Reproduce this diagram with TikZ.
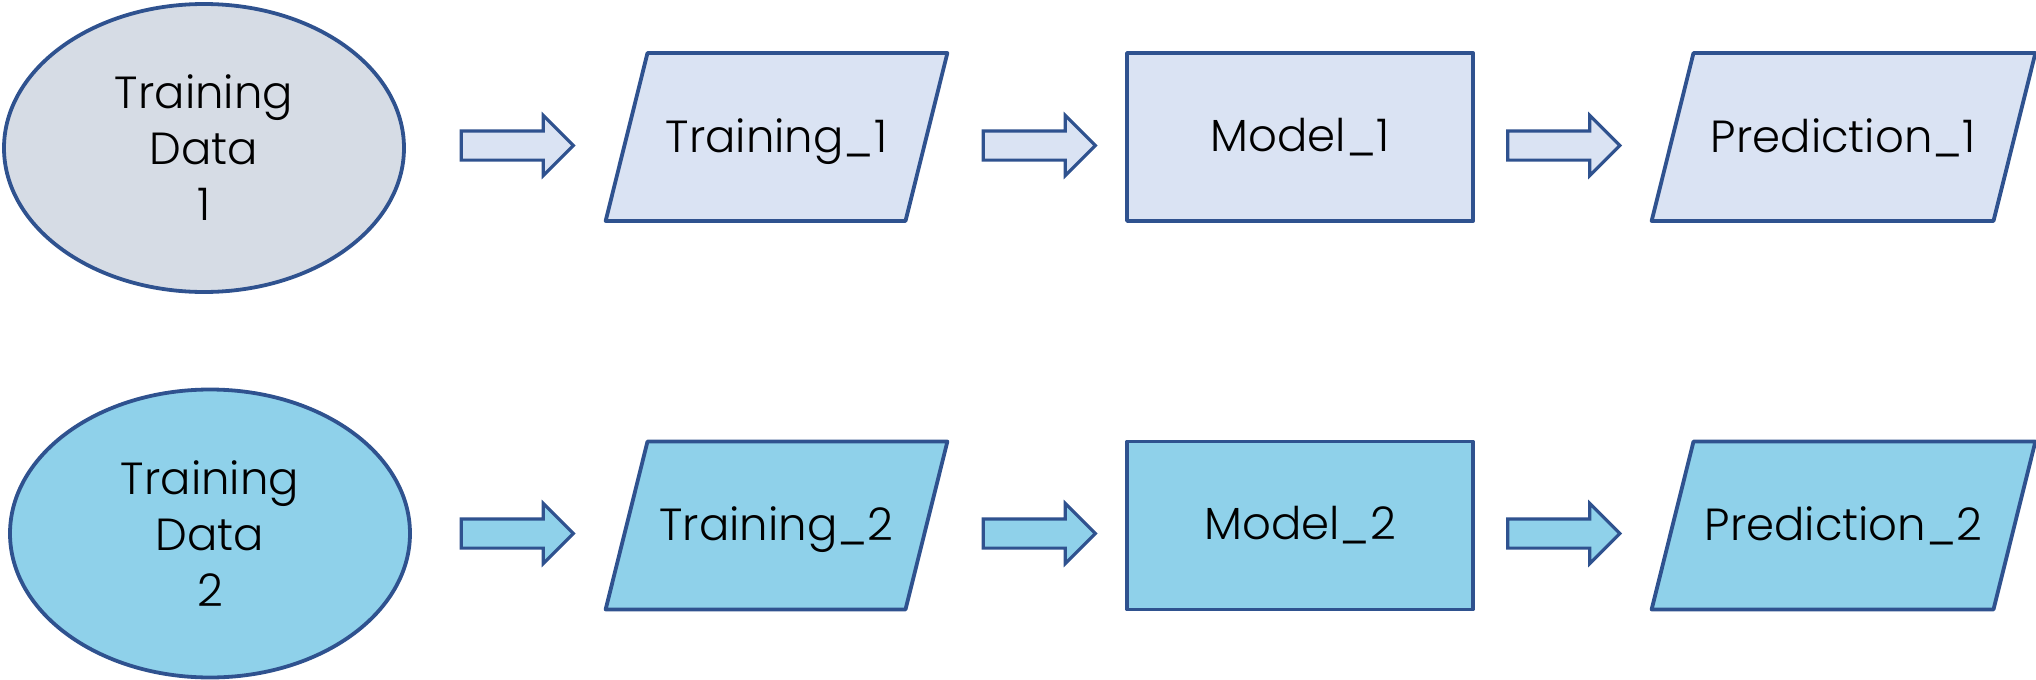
\documentclass[tikz,border=0pt]{standalone}
\usepackage{fontspec}
\setmainfont{Poppins}[UprightFont=* Light]
\usetikzlibrary{shapes.geometric, shapes.arrows, positioning}

\definecolor{edge}{HTML}{2F528F}
\definecolor{paleblue}{HTML}{DAE3F3}
\definecolor{greyblue}{HTML}{D6DCE5}
\definecolor{skyblue}{HTML}{8FD1EA}

\tikzset{
  base/.style={draw=edge, line width=1.9pt, line join=round, inner sep=0pt,
               align=center, font=\fontsize{22.5}{28}\selectfont},
  data/.style={base, ellipse, minimum width=200pt, minimum height=144pt},
  % body of the parallelogram = text box, the slanted sides add 21pt each way
  io/.style={base, trapezium, trapezium left angle=76, trapezium right angle=104,
             text height=49.5pt, text depth=34.5pt},
  proc/.style={base, rectangle, minimum width=173pt, minimum height=84pt},
  flow/.style={draw=edge, line width=1.6pt, line join=miter, single arrow,
               inner xsep=0pt, inner ysep=6.5pt,
               single arrow head extend=7.75pt, single arrow tip angle=90,
               minimum height=56pt},
}

\begin{document}
\begin{tikzpicture}[x=0.5pt, y=-0.5pt]
  \useasboundingbox (0,0) rectangle (2036,680);

  % first set
  \node[data, fill=greyblue] (data1) at (204,148) {Training\\Data\\1};
  \node[flow, fill=paleblue] (a11) at (510,145.5) {};
  \node[io, fill=paleblue, text width=129pt] (train1) at (776.5,137) {Training\_1};
  \node[flow, fill=paleblue] (a12) at (1032,145.5) {};
  \node[proc, fill=paleblue] (model1) at (1300,137) {Model\_1};
  \node[flow, fill=paleblue] (a13) at (1556.5,145.5) {};
  \node[io, fill=paleblue, text width=150pt] (pred1) at (1843.5,137) {Prediction\_1};

  % second set
  \node[data, fill=skyblue] (data2) at (210,533.5) {Training\\Data\\2};
  \node[flow, fill=skyblue] (a21) at (510,533.5) {};
  \node[io, fill=skyblue, text width=129pt] (train2) at (776.5,525.5) {Training\_2};
  \node[flow, fill=skyblue] (a22) at (1032,533.5) {};
  \node[proc, fill=skyblue] (model2) at (1300,525.5) {Model\_2};
  \node[flow, fill=skyblue] (a23) at (1556.5,533.5) {};
  \node[io, fill=skyblue, text width=150pt] (pred2) at (1843.5,525.5) {Prediction\_2};
\end{tikzpicture}
\end{document}
